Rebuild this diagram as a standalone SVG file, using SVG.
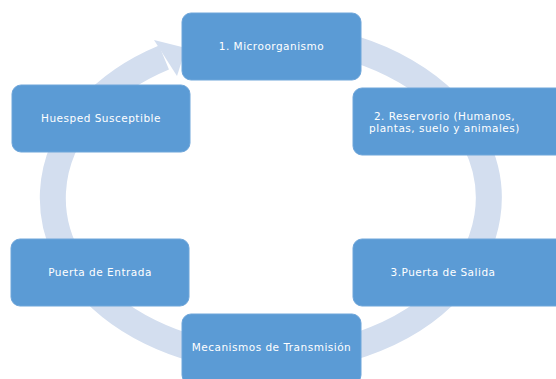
<svg xmlns="http://www.w3.org/2000/svg" width="556" height="379" viewBox="0 0 556 379">
<style>
.box{fill:#5b9bd5;stroke:#6fa6da;stroke-width:1}
.t{font-family:"DejaVu Sans",sans-serif;font-size:10.5px;letter-spacing:0.5px;fill:#ffffff;text-anchor:middle}
.ring{fill:none;stroke:#d3deef;stroke-width:26}
</style>
<rect width="556" height="379" fill="#ffffff"/>
<g id="connectors">
<path class="ring" d="M 195 46.9 A 218 161 0 1 1 164 57.5"/>
<polygon points="154,40 186,48 177,76" fill="#d3deef"/>
</g>
<g id="n1"><rect class="box" x="182" y="13" width="179" height="67" rx="9"/><text class="t" x="271.5" y="50">1. Microorganismo</text></g>
<g id="n2"><rect class="box" x="353" y="88" width="212" height="67" rx="9"/><text class="t" x="444.5" y="120">2. Reservorio (Humanos,</text><text class="t" x="444.5" y="131.5">plantas, suelo y animales)</text></g>
<g id="n3"><rect class="box" x="353" y="239" width="212" height="67" rx="9"/><text class="t" x="443" y="276">3.Puerta de Salida</text></g>
<g id="n4"><rect class="box" x="182" y="314" width="179" height="70" rx="9"/><text class="t" x="271.5" y="351">Mecanismos de Transmisión</text></g>
<g id="n5"><rect class="box" x="11" y="239" width="178" height="67" rx="9"/><text class="t" x="100" y="276">Puerta de Entrada</text></g>
<g id="n6"><rect class="box" x="12" y="85" width="178" height="67" rx="9"/><text class="t" x="101" y="122">Huesped Susceptible</text></g>
</svg>
